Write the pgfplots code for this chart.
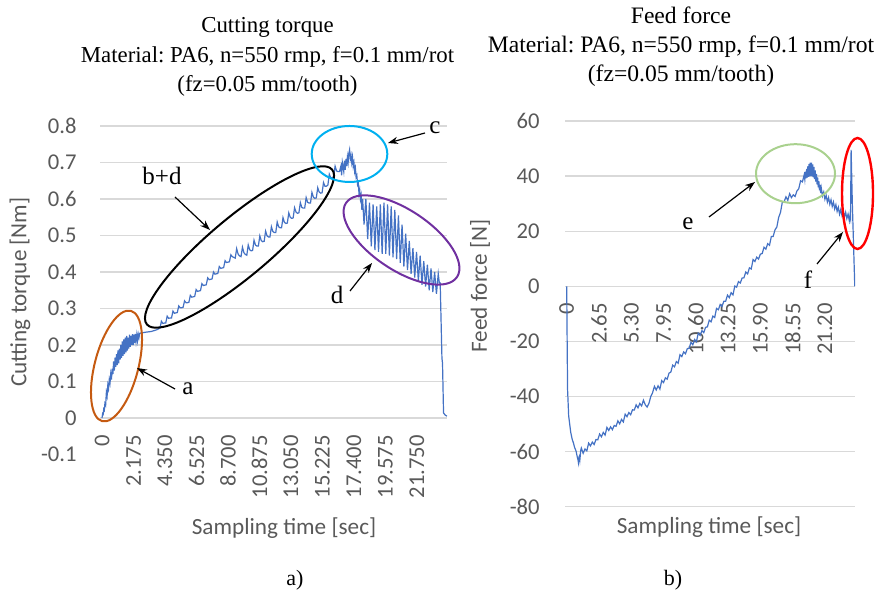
\documentclass[border=0pt]{standalone}
\usepackage{pgfplots}
\pgfplotsset{compat=1.18}
\usepackage{fontspec}
\setmainfont{Carlito}
\newfontfamily\serif{Liberation Serif}
\usetikzlibrary{arrows.meta}
\frenchspacing
\definecolor{lineblue}{HTML}{4472C4}
\definecolor{gridgray}{HTML}{D9D9D9}
\definecolor{txtgray}{HTML}{595959}
\definecolor{ellorange}{HTML}{C55A11}
\definecolor{ellcyan}{HTML}{00B0F0}
\definecolor{ellpurple}{HTML}{7030A0}
\definecolor{ellgreen}{HTML}{A9D18E}
\pgfplotsset{
  myaxis/.style={
    scale only axis,
    axis line style={draw=none},
    major tick length=0pt,
    ymajorgrids,
    grid style={gridgray, line width=0.7pt},
    tick label style={font=\fontsize{11.3}{13}\selectfont, text=txtgray},
    xticklabel style={rotate=90, anchor=east, inner sep=0pt},
    yticklabel style={anchor=east, inner sep=0pt},
  }
}
\tikzset{ann/.style={-{Stealth[length=5pt,width=3.6pt]}, line width=0.6pt, black},
  anntxt/.style={font=\serif\fontsize{12.5}{14}\selectfont},
  ttl/.style={font=\serif\fontsize{11.4}{13}\selectfont, anchor=base},
  ttr/.style={font=\serif\fontsize{11.8}{13}\selectfont, anchor=base},
  atitle/.style={font=\fontsize{11.6}{13}\selectfont, text=txtgray}}
\begin{document}
\begin{tikzpicture}
\useasboundingbox (0,0) rectangle (440.5pt,296pt);
% ---------------- left chart ----------------
\begin{axis}[myaxis, at={(50pt,68.75pt)}, anchor=south west,
  width=173.5pt, height=164.25pt,
  xmin=-0.14, xmax=23.83, ymin=-0.1, ymax=0.8,
  xtick={0,2.175,4.35,6.525,8.7,10.875,13.05,15.225,17.4,19.575,21.75},
  xticklabels={0,2.175,4.350,6.525,8.700,10.875,13.050,15.225,17.400,19.575,21.750},
  ytick={0,0.1,0.2,0.3,0.4,0.5,0.6,0.7,0.8},
  yticklabels={0,0.1,0.2,0.3,0.4,0.5,0.6,0.7,0.8},
  extra y ticks={-0.1}, extra y tick labels={-0.1}, extra y tick style={grid=none},
  xticklabel shift=-9.75pt, yticklabel shift=11.5pt]
\addplot[lineblue, line width=0.6pt] coordinates {
(0,0.0) (0.04,0.012) (0.08,0.01) (0.12,0.025) (0.16,0.022) (0.2,0.04) (0.25,0.035) (0.3,0.07) (0.35,0.06) (0.4,0.09) (0.45,0.08) (0.5,0.105) (0.55,0.095) (0.6,0.12) (0.65,0.105) (0.7,0.135) (0.75,0.12) (0.8,0.155) (0.85,0.13) (0.9,0.165) (0.95,0.14) (1.0,0.175) (1.05,0.145) (1.1,0.185) (1.15,0.15) (1.2,0.19) (1.25,0.16) (1.3,0.2) (1.35,0.165) (1.4,0.21) (1.45,0.17) (1.5,0.215) (1.55,0.175) (1.6,0.22) (1.65,0.18) (1.7,0.225) (1.75,0.185) (1.8,0.22) (1.85,0.19) (1.9,0.228) (1.95,0.195) (2.0,0.225) (2.05,0.2) (2.1,0.23) (2.15,0.2) (2.2,0.228) (2.25,0.205) (2.3,0.23) (2.35,0.21) (2.4,0.228) (2.45,0.212) (2.5,0.23) (2.55,0.22) (2.6,0.232) (3.0,0.235) (3.4,0.237) (3.8,0.242)
(4.0,0.246) (4.1,0.265) (4.2,0.259) (4.3,0.260) (4.4,0.260) (4.5,0.279) (4.6,0.273) (4.7,0.274) (4.8,0.274) (4.9,0.293) (5.0,0.287) (5.1,0.288) (5.2,0.289) (5.3,0.307) (5.4,0.302) (5.5,0.302) (5.6,0.303) (5.7,0.321) (5.8,0.316) (5.9,0.316) (6.0,0.317) (6.1,0.336) (6.2,0.331) (6.3,0.332) (6.4,0.333) (6.5,0.352) (6.6,0.347) (6.7,0.348) (6.8,0.349) (6.9,0.368) (7.0,0.363) (7.1,0.364) (7.2,0.365) (7.3,0.384) (7.4,0.379) (7.5,0.380) (7.6,0.381) (7.7,0.400) (7.8,0.394) (7.9,0.395) (8.0,0.396) (8.1,0.415) (8.2,0.410) (8.3,0.411) (8.4,0.412) (8.5,0.431) (8.6,0.426) (8.7,0.427) (8.8,0.428) (8.9,0.447) (9.0,0.442) (9.1,0.440) (9.2,0.438) (9.3,0.464) (9.4,0.449) (9.5,0.444) (9.6,0.442) (9.7,0.468) (9.8,0.453) (9.9,0.448) (10.0,0.446) (10.1,0.474) (10.2,0.461) (10.3,0.458) (10.4,0.459) (10.5,0.487) (10.6,0.474) (10.7,0.471) (10.8,0.471) (10.9,0.499) (11.0,0.486) (11.1,0.483) (11.2,0.484) (11.3,0.512) (11.4,0.499) (11.5,0.496) (11.6,0.496) (11.7,0.524) (11.8,0.511) (11.9,0.508) (12.0,0.508) (12.1,0.537) (12.2,0.524) (12.3,0.521) (12.4,0.521) (12.5,0.549) (12.6,0.536) (12.7,0.533) (12.8,0.534) (12.9,0.562) (13.0,0.550) (13.1,0.547) (13.2,0.548) (13.3,0.576) (13.4,0.564) (13.5,0.561) (13.6,0.562) (13.7,0.590) (13.8,0.577) (13.9,0.575) (14.0,0.575) (14.1,0.604) (14.2,0.591) (14.3,0.589) (14.4,0.589) (14.5,0.618) (14.6,0.605) (14.7,0.602) (14.8,0.603) (14.9,0.631) (15.0,0.619) (15.1,0.616) (15.2,0.617) (15.3,0.645) (15.4,0.635) (15.5,0.635) (15.6,0.638) (15.7,0.668) (15.8,0.658) (15.9,0.658) (16.0,0.661) (16.1,0.690) (16.2,0.677) (16.3,0.675) (16.4,0.675)
(16.5,0.69) (16.55,0.665) (16.6,0.70) (16.7,0.675) (16.75,0.705) (16.8,0.68) (16.85,0.71) (16.9,0.69) (16.95,0.715) (17.0,0.70) (17.05,0.725) (17.1,0.735) (17.15,0.71) (17.2,0.72) (17.25,0.70) (17.3,0.715) (17.35,0.69) (17.4,0.70) (17.45,0.675) (17.5,0.685) (17.55,0.66) (17.6,0.665) (17.65,0.64) (17.7,0.645) (17.75,0.615) (17.8,0.625) (17.85,0.60) (17.9,0.61) (17.95,0.57) (18.0,0.60)
(18.1,0.53) (18.225,0.60) (18.35,0.49) (18.475,0.59) (18.6,0.47) (18.725,0.585) (18.85,0.46) (18.975,0.58) (19.1,0.455) (19.225,0.585) (19.35,0.45) (19.475,0.59) (19.6,0.45) (19.725,0.585) (19.85,0.445) (19.975,0.58) (20.1,0.44) (20.225,0.57) (20.35,0.435) (20.475,0.555) (20.6,0.425) (20.725,0.53) (20.85,0.415) (20.975,0.505) (21.1,0.405) (21.225,0.485) (21.35,0.395) (21.475,0.465) (21.6,0.385) (21.725,0.455) (21.85,0.375) (21.975,0.445) (22.1,0.365) (22.225,0.43) (22.35,0.36) (22.475,0.42) (22.6,0.35) (22.725,0.41) (22.85,0.345) (22.975,0.40) (23.1,0.34) (23.225,0.395) (23.3,0.37) (23.36,0.37) (23.48,0.164) (23.52,0.15) (23.59,0.014) (23.7,0.008) (23.83,0.005)
};
\end{axis}
% ---------------- right chart ----------------
\begin{axis}[myaxis, at={(282.5pt,42.6pt)}, anchor=south west,
  width=145pt, height=192.9pt,
  xmin=-0.14, xmax=23.67, ymin=-80, ymax=60,
  xtick={0,2.65,5.3,7.95,10.6,13.25,15.9,18.55,21.2},
  xticklabels={0,2.65,5.30,7.95,10.60,13.25,15.90,18.55,21.20},
  ytick={-80,-60,-40,-20,0,20,40,60},
  yticklabels={-80,-60,-40,-20,0,20,40,60},
  xticklabel shift=-101.9pt, yticklabel shift=12.5pt]
\addplot[lineblue, line width=0.6pt] coordinates {
(0,0) (0.03,-17) (0.07,-37.4) (0.16,-47) (0.33,-53) (0.45,-55.5) (0.55,-56.8) (0.65,-58.5) (0.77,-59.8) (0.88,-62.2) (0.93,-63.0) (0.96,-63.9) (1.0,-62.0) (1.04,-61.6) (1.08,-63.0) (1.15,-59.5)
(1.2,-58.7) (1.35,-60.6) (1.5,-59.0) (1.65,-59.7) (1.8,-56.9) (1.95,-57.9) (2.1,-56.5) (2.25,-57.4) (2.4,-55.6) (2.55,-55.7) (2.7,-53.6) (2.85,-54.6) (3.0,-53.0) (3.15,-54.0) (3.3,-51.2) (3.45,-52.3) (3.6,-51.0) (3.75,-52.0) (3.9,-50.5) (4.05,-50.8) (4.2,-48.8) (4.35,-49.9) (4.5,-48.3) (4.65,-49.2) (4.8,-46.4) (4.95,-47.3) (5.1,-45.8) (5.25,-46.6) (5.4,-44.8) (5.55,-44.9) (5.7,-43.0) (5.85,-44.1) (6.0,-42.5) (6.15,-43.4) (6.3,-41.3) (6.45,-43.0) (6.6,-43.8) (6.75,-42.5) (6.9,-40.0) (7.05,-38.6) (7.2,-36.3) (7.35,-37.6) (7.5,-36.1) (7.65,-37.3) (7.8,-34.2) (7.95,-34.9) (8.1,-33.2) (8.25,-33.7) (8.4,-31.5) (8.55,-31.1) (8.7,-28.6) (8.85,-29.2) (9.0,-27.3) (9.15,-27.9) (9.3,-24.8) (9.45,-25.5) (9.6,-23.8) (9.75,-24.5) (9.9,-22.6) (10.05,-22.5) (10.2,-20.3) (10.35,-21.2) (10.5,-19.3) (10.65,-20.1) (10.8,-17.0) (10.95,-17.8) (11.1,-16.1) (11.25,-16.8) (11.4,-14.9) (11.55,-14.7) (11.7,-12.3) (11.85,-12.9) (12.0,-10.8) (12.15,-11.3) (12.3,-8.0) (12.45,-8.5) (12.6,-6.6) (12.75,-7.3) (12.9,-5.4) (13.05,-5.4) (13.2,-3.2) (13.35,-4.1) (13.5,-2.3) (13.65,-3.1) (13.8,0.1) (13.95,-0.3) (14.1,1.7) (14.25,1.2) (14.4,3.0) (14.55,3.1) (14.7,5.2) (14.85,4.5) (15.0,6.7) (15.15,6.3) (15.3,9.7) (15.45,9.0) (15.6,10.6) (15.75,9.9) (15.9,11.7) (16.05,11.9) (16.2,14.2) (16.35,13.5) (16.5,15.5) (16.65,14.9) (16.8,18.1) (16.95,18.1) (17.1,20.5) (17.25,21.5) (17.4,25.0) (17.55,26.8) (17.7,30.5) (17.85,30.7) (18.0,32.5) (18.15,31.2) (18.3,33.6) (18.45,32.2) (18.6,33.2) (18.75,32.6) (18.9,34.6) (19.05,35.4) (19.2,38.3) (19.35,37.9)
(19.5,40.5) (19.55,38.8) (19.6,41.6) (19.65,39.2) (19.7,42.6) (19.75,39.5) (19.8,43.6) (19.85,39.7) (19.9,44.4) (19.95,39.9) (20.0,44.9) (20.05,40.0) (20.1,44.9) (20.15,39.95) (20.2,44.2) (20.25,39.55) (20.3,43.3) (20.35,38.9) (20.4,42.1) (20.45,38.05) (20.5,40.8) (20.55,37.05) (20.6,39.5) (20.65,35.95) (20.7,38.2) (20.75,34.85) (20.8,36.9) (20.85,33.8) (20.9,35.7)
(21.0,32.8) (21.1,34.2) (21.2,31.6) (21.3,33.0) (21.4,30.6) (21.5,32.2) (21.6,29.8) (21.7,31.4) (21.8,29.0) (21.9,30.6) (22.0,28.1) (22.1,29.6) (22.2,27.2) (22.3,28.7) (22.4,26.2) (22.5,27.9) (22.6,25.7) (22.7,27.4) (22.8,25.1) (22.9,26.9) (23.0,24.6) (23.1,26.2) (23.2,23.8) (23.25,25.5) (23.3,24.5) (23.35,49.5) (23.45,30) (23.55,15) (23.65,0)
};
\end{axis}
% ---------------- titles ----------------
\node[ttl] at (133.75pt,279.5pt) {Cutting torque};
\node[ttl] at (133.75pt,264.5pt) {Material: PA6, n=550 rmp, f=0.1 mm/rot};
\node[ttl] at (133.75pt,250pt) {(fz=0.05 mm/tooth)};
\node[ttr] at (340.5pt,284pt) {Feed force};
\node[ttr] at (340.5pt,269.5pt) {Material: PA6, n=550 rmp, f=0.1 mm/rot};
\node[ttr] at (340.5pt,255pt) {(fz=0.05 mm/tooth)};
% axis titles
\node[atitle] at (142pt,32pt) {Sampling time [sec]};
\node[atitle] at (354.5pt,32.5pt) {Sampling time [sec]};
\node[atitle, rotate=90] at (10pt,150pt) {Cutting torque [Nm]};
\node[atitle, rotate=90] at (240pt,153pt) {Feed force [N]};
% panel labels
\node[font=\serif\fontsize{11}{13}\selectfont] at (147.5pt,6pt) {a)};
\node[font=\serif\fontsize{11}{13}\selectfont] at (336.5pt,6pt) {b)};
% ellipses
\draw[ellorange, line width=1pt, shift={(58.25pt,113pt)}, rotate=75.4] (0,0) ellipse (28.5pt and 10.9pt);
\draw[black, line width=1pt, shift={(119.75pt,172.5pt)}, rotate=39.9] (0,0) ellipse (60.35pt and 14.85pt);
\draw[ellcyan, line width=1pt] (174.75pt,219pt) ellipse (18.9pt and 14pt);
\draw[ellpurple, line width=1pt, shift={(200.75pt,176pt)}, rotate=-33.7] (0,0) ellipse (33.35pt and 15pt);
\draw[ellgreen, line width=1pt] (397.75pt,209.15pt) ellipse (19.75pt and 14.75pt);
\draw[red, line width=1.2pt] (428.75pt,199.25pt) ellipse (7.75pt and 27.75pt);
% annotations
\node[anntxt] at (81pt,208pt) {b+d};
\draw[ann] (87.5pt,197.5pt) -- (105pt,181pt);
\node[anntxt] at (217.5pt,232pt) {c};
\draw[ann] (212.5pt,229.5pt) -- (194pt,224.5pt);
\node[anntxt] at (168.5pt,148.5pt) {d};
\draw[ann] (175pt,150.5pt) -- (186pt,164.5pt);
\node[anntxt] at (94pt,101.5pt) {a};
\draw[ann] (87.5pt,101.5pt) -- (68.5pt,112pt);
\node[anntxt] at (344pt,184pt) {e};
\draw[ann] (354.5pt,187.5pt) -- (377.5pt,205pt);
\node[anntxt] at (404pt,156pt) {f};
\draw[ann] (408.5pt,164pt) -- (421.5pt,180pt);
\end{tikzpicture}
\end{document}
